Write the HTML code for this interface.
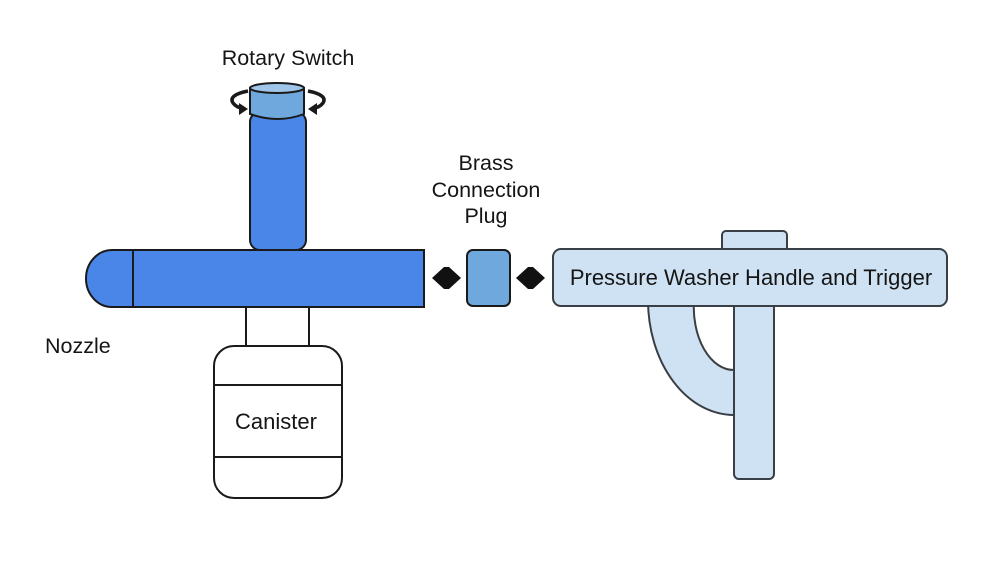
<!DOCTYPE html>
<html><head><meta charset="utf-8"><style>
html,body{margin:0;padding:0;background:#fff;}
svg{display:block;}
text{font-family:"Liberation Sans",Arial,sans-serif;fill:#151515;}
</style></head><body>
<svg width="1000" height="563" viewBox="0 0 1000 563" xmlns="http://www.w3.org/2000/svg">
<g stroke="#1a1a1a" stroke-width="2">
  <rect x="250" y="112" width="56" height="138" rx="10" fill="#4a86e8"/>
  <path d="M250,88 L250,114 Q278,124 304,114 L304,88 Z" fill="#6fa8dc"/>
  <ellipse cx="277" cy="88" rx="27" ry="5" fill="#9fc5e8"/>
</g>
<g fill="none" stroke="#1a1a1a" stroke-width="3.5">
  <path d="M248,91 Q228,95 233,103 Q237,108 243,108"/>
  <path d="M308,91 Q328,95 323,103 Q319,108 313,108"/>
</g>
<path d="M239,103 L248,109 L239,115 Z" fill="#1a1a1a"/>
<path d="M317,103 L308,109 L317,115 Z" fill="#1a1a1a"/>
<g stroke="#1a1a1a" stroke-width="2">
  <path d="M133,250 L112,250 A26,28.5 0 0 0 112,307 L133,307 Z" fill="#4a86e8"/>
  <rect x="133" y="250" width="291" height="57" fill="#4a86e8"/>
  <line x1="246" y1="307" x2="246" y2="346"/>
  <line x1="309" y1="307" x2="309" y2="346"/>
  <rect x="214" y="346" width="128" height="152" rx="20" fill="#fff"/>
  <line x1="214" y1="385" x2="342" y2="385"/>
  <line x1="214" y1="457" x2="342" y2="457"/>
  <rect x="467" y="250" width="43" height="56" rx="6" fill="#6fa8dc"/>
</g>
<path d="M432,278 L444,267 L449,267 L461,278 L449,289 L444,289 Z" fill="#111"/>
<path d="M516,278 L528,267 L533,267 L545,278 L533,289 L528,289 Z" fill="#111"/>
<g stroke="#3a3f45" stroke-width="2" fill="#cfe2f3">
  <rect x="722" y="231" width="65" height="24" rx="4"/>
  <path d="M648,300 A86,115 0 0 0 734,415 L734,370 A40,63 0 0 1 694,300 Z"/>
  <rect x="734" y="300" width="40" height="179" rx="5"/>
  <rect x="553" y="249" width="394" height="57" rx="8"/>
</g>
<text x="751" y="285" font-size="22" text-anchor="middle">Pressure Washer Handle and Trigger</text>
<text x="288" y="65" font-size="21.5" text-anchor="middle">Rotary Switch</text>
<text x="486" y="170" font-size="21.5" text-anchor="middle">Brass</text>
<text x="486" y="197" font-size="21.5" text-anchor="middle">Connection</text>
<text x="486" y="223" font-size="21.5" text-anchor="middle">Plug</text>
<text x="45" y="353" font-size="21.5">Nozzle</text>
<text x="276" y="429" font-size="22" text-anchor="middle">Canister</text>
</svg>
</body></html>
